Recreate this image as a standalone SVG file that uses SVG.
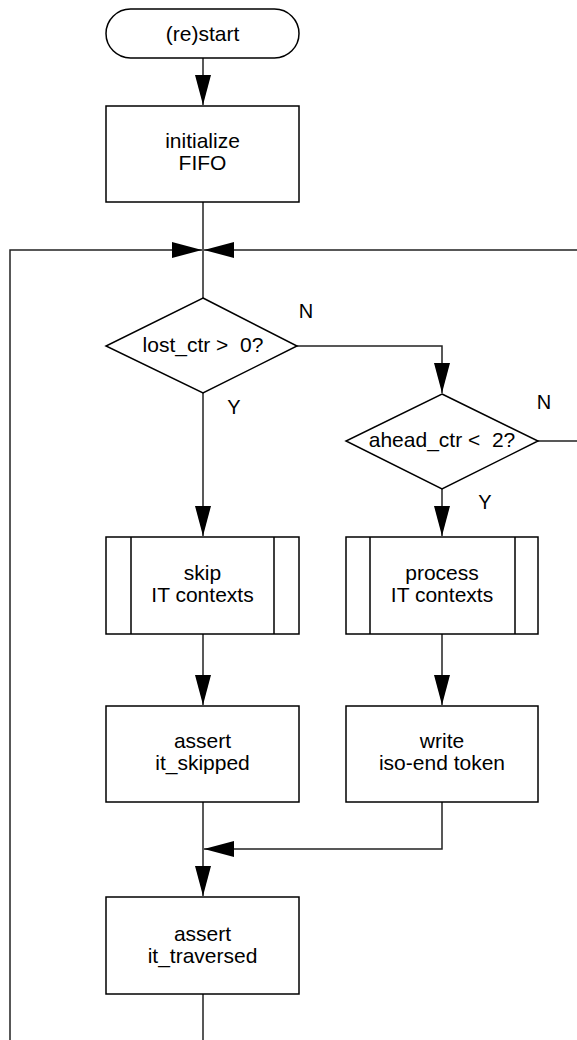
<svg xmlns="http://www.w3.org/2000/svg" width="577" height="1040" viewBox="0 0 577 1040">
<style>
.shape{fill:#fff;stroke:#000;stroke-width:1.5}
.line{fill:none;stroke:#222;stroke-width:1.5}
.t{font-family:"Liberation Sans",Arial,sans-serif;font-size:21px;fill:#000;text-anchor:middle;white-space:pre}
.lbl{font-family:"Liberation Sans",Arial,sans-serif;font-size:20px;fill:#000;text-anchor:middle}
</style>
<defs>
<marker id="arr" markerUnits="userSpaceOnUse" markerWidth="32" markerHeight="18" refX="30" refY="8" orient="auto">
<path d="M0,0 L30,8 L0,16 Z" fill="#000"/>
</marker>
</defs>
<rect width="577" height="1040" fill="#fff"/>
<g id="connectors">
<path class="line" d="M203,58 V105" marker-end="url(#arr)"/>
<path class="line" d="M203,202 V298"/>
<path class="line" d="M203,994 V1060 H10 V250 H202" marker-end="url(#arr)"/>
<path class="line" d="M538,441 H579 V250 H204" marker-end="url(#arr)"/>
<path class="line" d="M297,346 H442 V393" marker-end="url(#arr)"/>
<path class="line" d="M203,393 V536" marker-end="url(#arr)"/>
<path class="line" d="M442,489 V536" marker-end="url(#arr)"/>
<path class="line" d="M203,634 V705" marker-end="url(#arr)"/>
<path class="line" d="M442,634 V705" marker-end="url(#arr)"/>
<path class="line" d="M203,802 V896" marker-end="url(#arr)"/>
<path class="line" d="M442,802 V849 H204" marker-end="url(#arr)"/>
</g>
<g id="start">
<rect class="shape" x="106" y="9" width="193" height="49" rx="24.5"/>
<text class="t" x="202.5" y="41">(re)start</text>
</g>
<g id="init">
<rect class="shape" x="106" y="106" width="193" height="96"/>
<text class="t" x="202.5" y="148">initialize</text>
<text class="t" x="202.5" y="170">FIFO</text>
</g>
<g id="dec1">
<path class="shape" d="M203,298 L297,346 L203,393 L106,346 Z"/>
<text class="t" x="203" y="352">lost_ctr &gt;  0?</text>
<text class="lbl" x="306" y="318">N</text>
<text class="lbl" x="234" y="414">Y</text>
</g>
<g id="dec2">
<path class="shape" d="M442,394 L538,441 L442,489 L346,441 Z"/>
<text class="t" x="442" y="447">ahead_ctr &lt;  2?</text>
<text class="lbl" x="544" y="409">N</text>
<text class="lbl" x="485" y="509">Y</text>
</g>
<g id="skip">
<rect class="shape" x="106" y="537" width="193" height="97"/>
<path class="line" d="M131,537 V634 M274,537 V634" style="stroke:#000"/>
<text class="t" x="202.5" y="580">skip</text>
<text class="t" x="202.5" y="602">IT contexts</text>
</g>
<g id="process">
<rect class="shape" x="346" y="537" width="192" height="97"/>
<path class="line" d="M370,537 V634 M515,537 V634" style="stroke:#000"/>
<text class="t" x="442" y="580">process</text>
<text class="t" x="442" y="602">IT contexts</text>
</g>
<g id="skipped">
<rect class="shape" x="106" y="706" width="193" height="96"/>
<text class="t" x="202.5" y="748">assert</text>
<text class="t" x="202.5" y="770">it_skipped</text>
</g>
<g id="write">
<rect class="shape" x="346" y="706" width="192" height="96"/>
<text class="t" x="442" y="748">write</text>
<text class="t" x="442" y="770">iso-end token</text>
</g>
<g id="traversed">
<rect class="shape" x="106" y="897" width="193" height="97"/>
<text class="t" x="202.5" y="941">assert</text>
<text class="t" x="202.5" y="963">it_traversed</text>
</g>
</svg>
